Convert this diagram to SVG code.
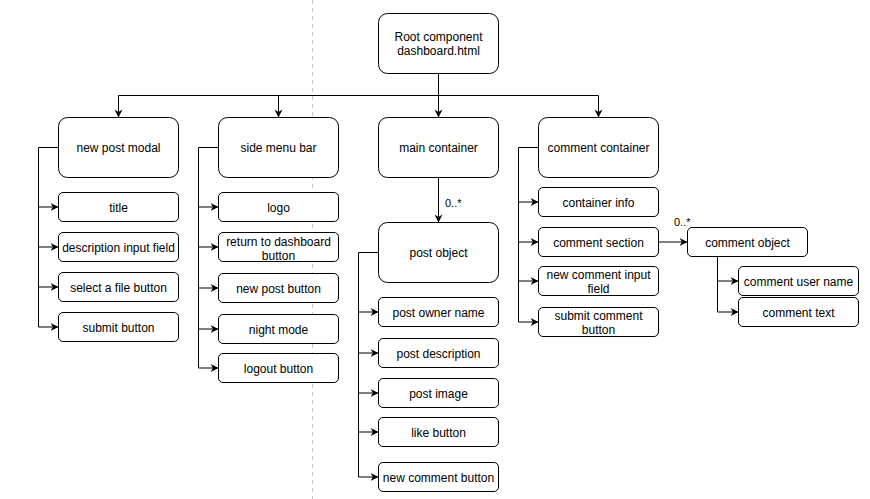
<svg xmlns="http://www.w3.org/2000/svg" width="870" height="499" viewBox="0 0 870 499">
<defs>
<style>
.n{fill:#fff;stroke:#000;stroke-width:1}
.t{font-family:"Liberation Sans",Arial,sans-serif;font-size:12px;fill:#000;text-anchor:middle}
.lbl{font-family:"Liberation Sans",Arial,sans-serif;font-size:11px;fill:#000}
.c{fill:none;stroke:#000;stroke-width:1}
.a{fill:none;stroke:#000;stroke-width:1;marker-end:url(#ah)}
</style>
<marker id="ah" viewBox="0 0 10 10" refX="10" refY="5" markerWidth="8" markerHeight="8" markerUnits="userSpaceOnUse" orient="auto">
<path d="M0,0 L10,5 L0,10 L3,5 z" fill="#000"/>
</marker>
</defs>
<rect width="870" height="499" fill="#fff"/>
<line x1="312.5" y1="0" x2="312.5" y2="499" stroke="#c8c8c8" stroke-dasharray="4 4"/>

<g id="connectors">
<path class="c" d="M438.5,73.5 V95.5 M118.5,95.5 H598.5"/>
<path class="a" d="M118.5,95.5 V117.5"/>
<path class="a" d="M278.5,95.5 V117.5"/>
<path class="a" d="M438.5,73.5 V117.5"/>
<path class="a" d="M598.5,95.5 V117.5"/>

<path class="c" d="M58.5,147.5 H38.5 V327"/>
<path class="a" d="M38.5,207 H58.5"/>
<path class="a" d="M38.5,247 H58.5"/>
<path class="a" d="M38.5,287 H58.5"/>
<path class="a" d="M38.5,327 H58.5"/>

<path class="c" d="M218.5,147.5 H198.5 V368"/>
<path class="a" d="M198.5,207 H218.5"/>
<path class="a" d="M198.5,247 H218.5"/>
<path class="a" d="M198.5,288 H218.5"/>
<path class="a" d="M198.5,329 H218.5"/>
<path class="a" d="M198.5,368 H218.5"/>

<path class="a" d="M438.5,177.5 V222.5"/>
<text class="lbl" x="445" y="207">0..*</text>

<path class="c" d="M378.5,252.5 H358.5 V477"/>
<path class="a" d="M358.5,312 H378.5"/>
<path class="a" d="M358.5,353 H378.5"/>
<path class="a" d="M358.5,393 H378.5"/>
<path class="a" d="M358.5,432 H378.5"/>
<path class="a" d="M358.5,477 H378.5"/>

<path class="c" d="M538.5,147.5 H518.5 V322"/>
<path class="a" d="M518.5,202 H538.5"/>
<path class="a" d="M518.5,242 H538.5"/>
<path class="a" d="M518.5,281 H538.5"/>
<path class="a" d="M518.5,322 H538.5"/>

<path class="a" d="M658.5,242 H687.5"/>
<text class="lbl" x="674" y="226">0..*</text>

<path class="c" d="M717.5,256.5 V312"/>
<path class="a" d="M717.5,281 H738.5"/>
<path class="a" d="M717.5,312 H738.5"/>
</g>

<g id="root"><rect class="n" x="378.5" y="13.5" width="120" height="60" rx="9"/><text class="t" x="438.5" y="41">Root component</text><text class="t" x="438.5" y="55">dashboard.html</text></g>

<g id="new-post-modal"><rect class="n" x="58.5" y="117.5" width="120" height="60" rx="9"/><text class="t" x="118.5" y="152">new post modal</text></g>
<g id="title"><rect class="n" x="58.5" y="192.5" width="120" height="29" rx="4.5"/><text class="t" x="118.5" y="212">title</text></g>
<g id="description-input-field"><rect class="n" x="58.5" y="232.5" width="120" height="29" rx="4.5"/><text class="t" x="118.5" y="252">description input field</text></g>
<g id="select-file-button"><rect class="n" x="58.5" y="272.5" width="120" height="29" rx="4.5"/><text class="t" x="118.5" y="292">select a file button</text></g>
<g id="submit-button"><rect class="n" x="58.5" y="312.5" width="120" height="29" rx="4.5"/><text class="t" x="118.5" y="332">submit button</text></g>

<g id="side-menu-bar"><rect class="n" x="218.5" y="117.5" width="120" height="60" rx="9"/><text class="t" x="278.5" y="152">side menu bar</text></g>
<g id="logo"><rect class="n" x="218.5" y="192.5" width="120" height="29" rx="4.5"/><text class="t" x="278.5" y="212">logo</text></g>
<g id="return-button"><rect class="n" x="218.5" y="232.5" width="120" height="29" rx="4.5"/><text class="t" x="278.5" y="246">return to dashboard</text><text class="t" x="278.5" y="260">button</text></g>
<g id="new-post-button"><rect class="n" x="218.5" y="273.5" width="120" height="29" rx="4.5"/><text class="t" x="278.5" y="293">new post button</text></g>
<g id="night-mode"><rect class="n" x="218.5" y="314.5" width="120" height="29" rx="4.5"/><text class="t" x="278.5" y="334">night mode</text></g>
<g id="logout-button"><rect class="n" x="218.5" y="353.5" width="120" height="29" rx="4.5"/><text class="t" x="278.5" y="373">logout button</text></g>

<g id="main-container"><rect class="n" x="378.5" y="117.5" width="120" height="60" rx="9"/><text class="t" x="438.5" y="152">main container</text></g>
<g id="post-object"><rect class="n" x="378.5" y="222.5" width="120" height="60" rx="9"/><text class="t" x="438.5" y="257">post object</text></g>
<g id="post-owner-name"><rect class="n" x="378.5" y="297.5" width="120" height="29" rx="4.5"/><text class="t" x="438.5" y="317">post owner name</text></g>
<g id="post-description"><rect class="n" x="378.5" y="338.5" width="120" height="29" rx="4.5"/><text class="t" x="438.5" y="358">post description</text></g>
<g id="post-image"><rect class="n" x="378.5" y="378.5" width="120" height="29" rx="4.5"/><text class="t" x="438.5" y="398">post image</text></g>
<g id="like-button"><rect class="n" x="378.5" y="417.5" width="120" height="29" rx="4.5"/><text class="t" x="438.5" y="437">like button</text></g>
<g id="new-comment-button"><rect class="n" x="378.5" y="462.5" width="120" height="29" rx="4.5"/><text class="t" x="438.5" y="482">new comment button</text></g>

<g id="comment-container"><rect class="n" x="538.5" y="117.5" width="120" height="60" rx="9"/><text class="t" x="598.5" y="152">comment container</text></g>
<g id="container-info"><rect class="n" x="538.5" y="187.5" width="120" height="29" rx="4.5"/><text class="t" x="598.5" y="207">container info</text></g>
<g id="comment-section"><rect class="n" x="538.5" y="227.5" width="120" height="29" rx="4.5"/><text class="t" x="598.5" y="247">comment section</text></g>
<g id="new-comment-input-field"><rect class="n" x="538.5" y="266.5" width="120" height="29" rx="4.5"/><text class="t" x="598.5" y="279">new comment input</text><text class="t" x="598.5" y="293">field</text></g>
<g id="submit-comment-button"><rect class="n" x="538.5" y="307.5" width="120" height="29" rx="4.5"/><text class="t" x="598.5" y="320">submit comment</text><text class="t" x="598.5" y="334">button</text></g>

<g id="comment-object"><rect class="n" x="687.5" y="227.5" width="120" height="29" rx="4.5"/><text class="t" x="747.5" y="247">comment object</text></g>
<g id="comment-user-name"><rect class="n" x="738.5" y="266.5" width="120" height="29" rx="4.5"/><text class="t" x="798.5" y="286">comment user name</text></g>
<g id="comment-text"><rect class="n" x="738.5" y="297.5" width="120" height="29" rx="4.5"/><text class="t" x="798.5" y="317">comment text</text></g>
</svg>
